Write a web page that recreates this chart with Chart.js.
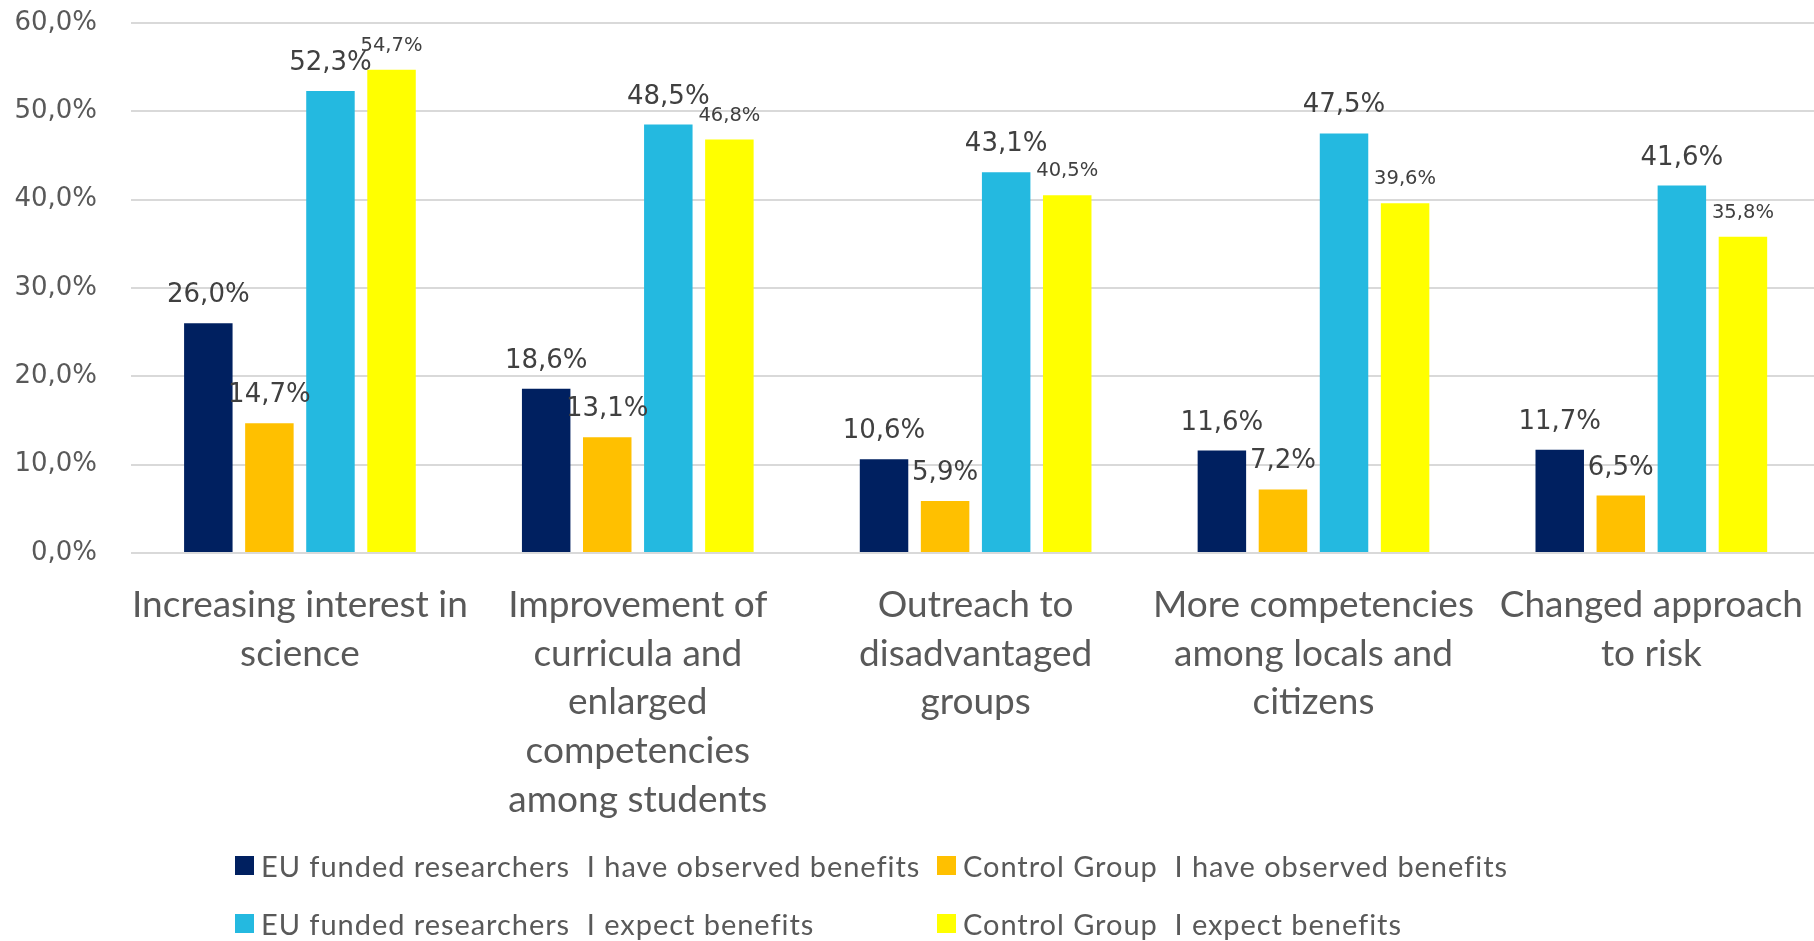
<!DOCTYPE html>
<html lang="en">
<head>
    <meta charset="UTF-8">
    <title>Observed and expected benefits</title>
    <script src="https://cdn.jsdelivr.net/npm/chart.js"></script>
    <style>
        body { margin: 0; background: #fff; overflow: hidden; }
        .wrap { position: relative; width: 1823px; height: 941px; }
        .legend {
            position: absolute; left: 235px; top: 850px;
            display: grid; grid-template-columns: 702px auto; row-gap: 28px;
            font-family: Lato, sans-serif; font-size: 29px; letter-spacing: 0.95px; color: #595959;
        }
        .legend div { display: flex; align-items: center; white-space: pre; height: 30px; }
        .legend span.box { width: 19px; height: 19px; margin-right: 7px; }
    </style>
</head>
<body>
    <div class="wrap">
        <canvas id="benefitsChart"></canvas>
        <div class="legend" id="legend"></div>
    </div>

    <script>
        const categories = [
            ['Increasing interest in', 'science'],
            ['Improvement of', 'curricula and', 'enlarged', 'competencies', 'among students'],
            ['Outreach to', 'disadvantaged', 'groups'],
            ['More competencies', 'among locals and', 'citizens'],
            ['Changed approach', 'to risk']
        ];
        const seriesNames = [
            'EU funded researchers  I have observed benefits',
            'Control Group  I have observed benefits',
            'EU funded researchers  I expect benefits',
            'Control Group  I expect benefits'
        ];
        const euObserved = [26.0, 18.6, 10.6, 11.6, 11.7];
        const controlObserved = [14.7, 13.1, 5.9, 7.2, 6.5];
        const euExpect = [52.3, 48.5, 43.1, 47.5, 41.6];
        const controlExpect = [54.7, 46.8, 40.5, 39.6, 35.8];
        const colors = ['#002060', '#ffc000', '#24b9e0', '#ffff00'];
        const labelSizes = [26, 26, 26, 19.5];

        function pct(v) {
            return v.toFixed(1).replace('.', ',') + '%';
        }

        // value labels above the bars
        const valueLabels = {
            id: 'valueLabels',
            afterDatasetsDraw(chart) {
                const ctx = chart.ctx;
                ctx.save();
                ctx.fillStyle = '#404040';
                ctx.textAlign = 'center';
                ctx.textBaseline = 'alphabetic';
                chart.data.datasets.forEach((ds, i) => {
                    const meta = chart.getDatasetMeta(i);
                    ctx.font = labelSizes[i] + 'px "DejaVu Sans"';
                    const gap = i === 3 ? 19 : 21;
                    meta.data.forEach((bar, j) => {
                        ctx.fillText(pct(ds.data[j]), bar.x, bar.y - gap);
                    });
                });
                ctx.restore();
            }
        };

        const allData = [euObserved, controlObserved, euExpect, controlExpect];

        new Chart(document.getElementById('benefitsChart'), {
            type: 'bar',
            data: {
                labels: categories,
                datasets: allData.map((d, i) => ({
                    label: seriesNames[i],
                    data: d,
                    backgroundColor: colors[i],
                    categoryPercentage: 0.723,
                    barPercentage: 0.794
                }))
            },
            options: {
                responsive: true,
                maintainAspectRatio: false,
                animation: false,
                layout: { padding: { top: 23, right: 0, bottom: 0, left: 0 } },
                plugins: {
                    legend: { display: false },
                    tooltip: { enabled: false }
                },
                scales: {
                    x: {
                        grid: { display: false },
                        border: { display: false },
                        ticks: {
                            color: '#595959',
                            font: { family: 'Lato', size: 37, lineHeight: 1.313 },
                            maxRotation: 0,
                            autoSkip: false,
                            padding: 20
                        },
                        afterFit(scale) { scale.height = 388; }
                    },
                    y: {
                        min: 0,
                        max: 60,
                        border: { display: false },
                        grid: {
                            color: '#d9d9d9',
                            lineWidth: 2,
                            drawTicks: true,
                            tickLength: 34,
                            tickColor: 'rgba(0,0,0,0)'
                        },
                        ticks: {
                            stepSize: 10,
                            color: '#595959',
                            font: { family: 'DejaVu Sans', size: 26 },
                            padding: 0,
                            callback: v => pct(v)
                        },
                        afterFit(scale) { scale.width = 131; }
                    }
                }
            },
            plugins: [valueLabels]
        });

        const legend = document.getElementById('legend');
        [0, 1, 2, 3].forEach(i => {
            const item = document.createElement('div');
            item.innerHTML = '<span class="box" style="background:' + colors[i] + '"></span>' + seriesNames[i];
            legend.appendChild(item);
        });
    </script>
</body>
</html>
